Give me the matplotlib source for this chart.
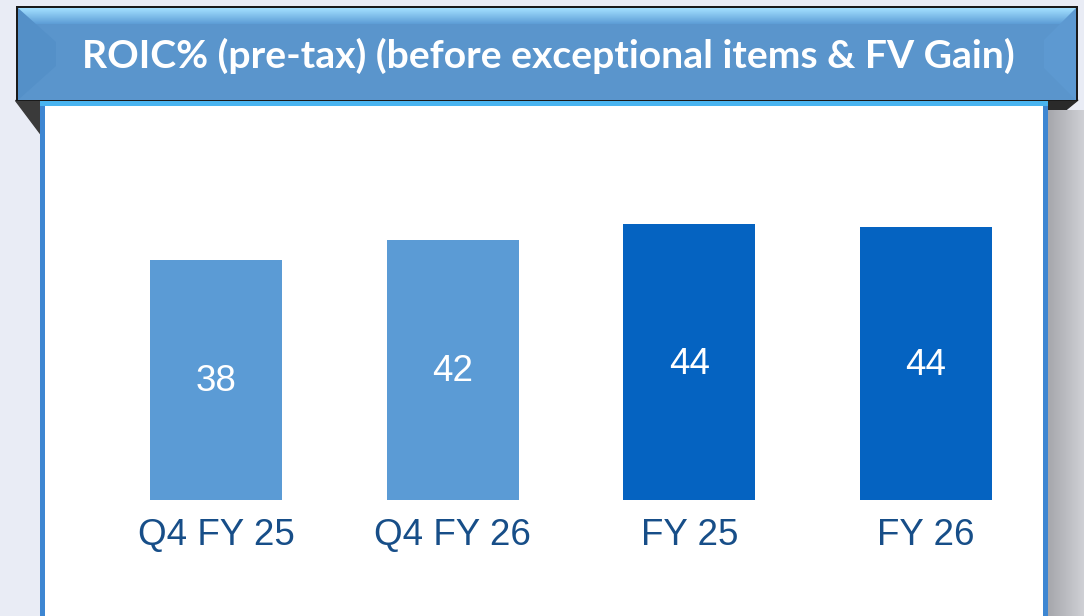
import numpy as np
import matplotlib
matplotlib.use("Agg")
import matplotlib.pyplot as plt
from matplotlib.patches import Rectangle, Polygon

# ---- data ----
categories = ["Q4 FY 25", "Q4 FY 26", "FY 25", "FY 26"]
values = [38.4, 41.6, 44.1, 43.7]
value_labels = ["38", "42", "44", "44"]
bar_colors = ["#5b9bd5", "#5b9bd5", "#0563c1", "#0563c1"]
title = "ROIC% (pre-tax) (before exceptional items & FV Gain)"

W, H = 1084, 616
fig = plt.figure(figsize=(W / 100, H / 100), dpi=100)
fig.patch.set_facecolor("#e9ecf5")

# decoration axes in pixel coordinates
deco = fig.add_axes([0, 0, 1, 1])
deco.set_xlim(0, W)
deco.set_ylim(H, 0)
deco.axis("off")

# fold shadows under banner
deco.add_patch(Polygon([(15, 100), (42, 100), (42, 136)], closed=True, color="#3a3a3a", zorder=1))
deco.add_patch(Polygon([(1046, 100), (1078, 100), (1046, 126)], closed=True, color="#2a2a2a", zorder=1))

# panel right shadow
grad = np.linspace(0, 1, 50).reshape(1, -1)
deco.imshow(grad, extent=(1048, 1084, H, 110), cmap=matplotlib.colors.LinearSegmentedColormap.from_list(
    "sh", ["#a6a7ac", "#cfd0d5"]), aspect="auto", zorder=1)
# panel
deco.add_patch(Rectangle((40, 102), 1008, H - 102 + 5, facecolor="white", edgecolor="none", zorder=2))
deco.add_patch(Rectangle((40, 102), 5, H, facecolor="#3d86d2", edgecolor="none", zorder=3))
deco.add_patch(Rectangle((1043, 102), 5, H, facecolor="#3d86d2", edgecolor="none", zorder=3))
deco.add_patch(Rectangle((40, 101), 1008, 5, facecolor="#49b4f0", edgecolor="none", zorder=3))

# banner
deco.add_patch(Rectangle((16, 6), 1062, 95, facecolor="#1a1a1a", edgecolor="none", zorder=4))
deco.add_patch(Rectangle((18, 8), 1058, 92, facecolor="#5a95cc", edgecolor="none", zorder=5))
vg = np.linspace(0, 1, 60).reshape(-1, 1)
deco.imshow(vg, extent=(18, 1076, 24, 8), cmap=matplotlib.colors.LinearSegmentedColormap.from_list(
    "tb", ["#a3e0ff", "#5d9dd6"]), aspect="auto", zorder=6)
deco.add_patch(Polygon([(18, 8), (56, 42), (56, 66), (18, 100)], closed=True,
                       facecolor="#5490c8", edgecolor="none", zorder=7))
deco.add_patch(Polygon([(1076, 8), (1044, 40), (1044, 68), (1076, 100)], closed=True,
                       facecolor="#5d99d1", edgecolor="none", zorder=7))
deco.text(548, 56, title, ha="center", va="center", color="white", fontsize=28.2,
          fontweight="bold", family=["Lato", "DejaVu Sans"], zorder=8)

# bar axes
centers = np.arange(len(categories))
spacing = 236.67
x0 = -(216 - 45) / spacing
x1 = (1044 - 216) / spacing
ax = fig.add_axes([45 / W, (H - 500) / H, (1044 - 45) / W, (500 - 103) / H])
ax.set_facecolor("none")
ax.bar(centers, values, width=132 / spacing, color=bar_colors, zorder=3)
ax.set_xlim(x0, x1)
ax.set_ylim(0, 397 / 6.25)
for sp in ax.spines.values():
    sp.set_visible(False)
ax.set_yticks([])
ax.set_xticks(centers)
ax.set_xticklabels(categories, fontsize=26.5, color="#174e88", family=["Liberation Sans", "DejaVu Sans"])
ax.tick_params(axis="x", length=0, pad=13)
for c, v, lab in zip(centers, values, value_labels):
    ax.text(c, v / 2 - 0.3, lab, ha="center", va="center", color="white", fontsize=26.5,
            family=["Liberation Sans", "DejaVu Sans"], zorder=4)

fig.savefig("out.png", dpi=100, facecolor=fig.get_facecolor())
